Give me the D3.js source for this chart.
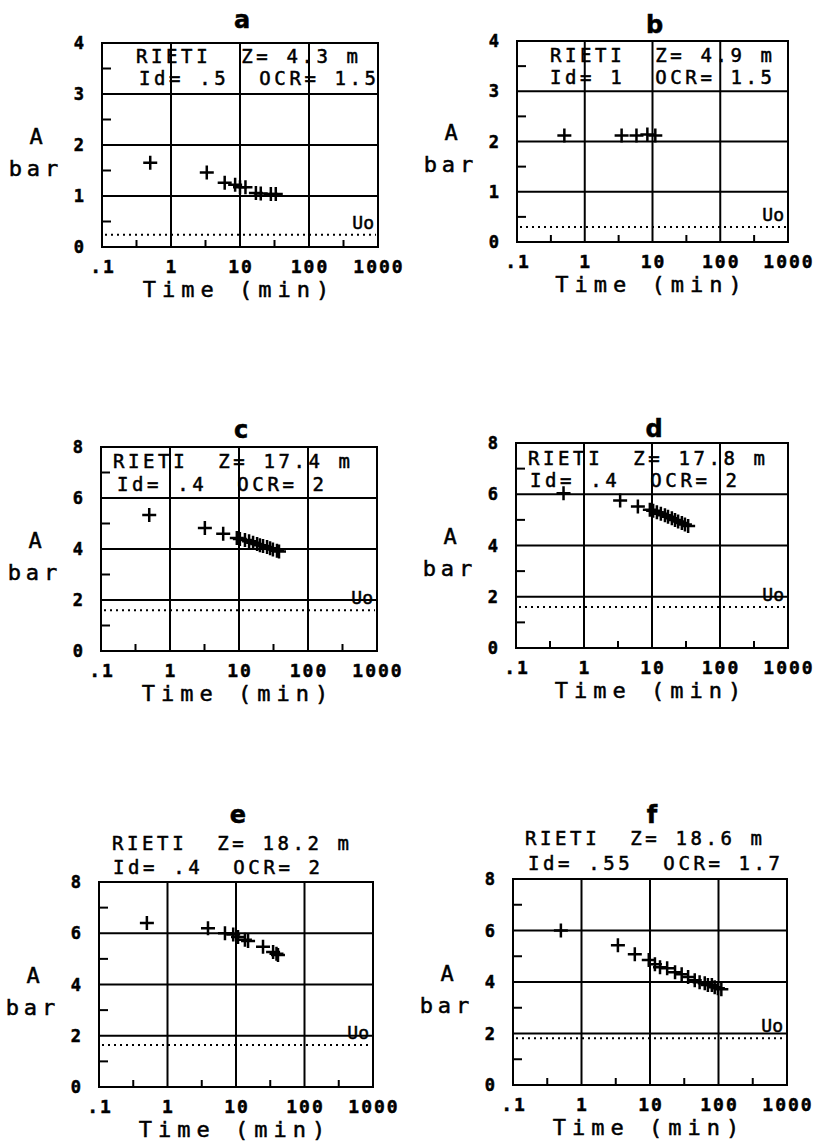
<!DOCTYPE html>
<html>
<head>
<meta charset="utf-8">
<script src="https://cdn.jsdelivr.net/npm/d3@7"></script>
<style>
  body { margin: 0; background: #fff; }
  text { font-family: "DejaVu Sans Mono", monospace; fill: #000; stroke: #000; stroke-width: 0.5; }
</style>
</head>
<body>
<svg id="chart" width="818" height="1144"></svg>
<script>
// ---- data ----
const panelIds = ["a", "b", "c", "d", "e", "f"];
const headLine1 = ["RIETI  Z= 4.3 m", "RIETI  Z= 4.9 m", "RIETI  Z= 17.4 m", "RIETI  Z= 17.8 m", "RIETI  Z= 18.2 m", "RIETI  Z= 18.6 m"];
const headLine2 = ["Id= .5  OCR= 1.5", "Id= 1  OCR= 1.5", "Id= .4  OCR= 2", "Id= .4  OCR= 2", "Id= .4  OCR= 2", "Id= .55  OCR= 1.7"];

const timeA = [0.5, 3.3, 6, 8.5, 10, 12, 17, 20, 28, 33];
const presA = [1.65, 1.46, 1.26, 1.22, 1.17, 1.17, 1.06, 1.05, 1.04, 1.04];
const timeB = [0.5, 3.5, 5.8, 8.4, 11];
const presB = [2.12, 2.12, 2.12, 2.14, 2.12];
const timeC = [0.5, 3.2, 5.9, 9.3, 10.3, 12.2, 14, 16, 18.3, 20.1, 22.3, 25.5, 28.2, 31, 35.5, 38];
const presC = [5.33, 4.82, 4.6, 4.43, 4.39, 4.35, 4.3, 4.25, 4.2, 4.15, 4.12, 4.08, 4.03, 3.98, 3.93, 3.9];
const timeD = [0.5, 3.4, 6.2, 9.3, 10.4, 11.8, 13.5, 15.5, 17.2, 19.6, 21.8, 24.2, 27.5, 30.5, 34];
const presD = [6.04, 5.76, 5.52, 5.4, 5.36, 5.3, 5.24, 5.18, 5.12, 5.06, 5.0, 4.94, 4.88, 4.82, 4.76];
const timeE = [0.5, 3.9, 6.9, 9.1, 10.7, 13.5, 15, 24.8, 34.8, 39, 41];
const presE = [6.4, 6.2, 6.0, 5.95, 5.85, 5.75, 5.7, 5.47, 5.27, 5.2, 5.15];
const timeF = [0.5, 3.4, 6.0, 9.6, 11.8, 14, 17.8, 23.2, 29, 36, 45, 53, 63, 70, 80, 88, 98, 110];
const presF = [6.0, 5.43, 5.08, 4.85, 4.69, 4.57, 4.53, 4.38, 4.3, 4.19, 4.07, 3.99, 3.95, 3.88, 3.88, 3.8, 3.76, 3.72];

const uoLevels = [0.24, 0.3, 1.6, 1.6, 1.64, 1.82];
const yMaxes = [4, 4, 8, 8, 8, 8];
const yGridStep = [1, 1, 2, 2, 2, 2];

const xTickVals = [0.1, 1, 10, 100, 1000];
const xTickLabels = [".1", "1", "10", "100", "1000"];

const times = [timeA, timeB, timeC, timeD, timeE, timeF];
const pressures = [presA, presB, presC, presD, presE, presF];

// ---- layout: plot boxes [left, right, top, bottom] (the scan is a bit uneven) ----
const boxes = [
  [102, 378, 43, 247], [517, 788, 41, 242],
  [101, 377, 447, 651], [516, 788, 443, 648],
  [99, 373, 882, 1087], [513, 787, 879, 1085]
];
// header text offsets from box left/top: [dx1, dy1, dx2, dy2]
const headOffsets = [
  [34, 20, 37, 42], [33, 21, 33, 43],
  [12, 21, 16, 44], [12, 22, 14, 44],
  [13, -32, 14, -8], [12, -34, 15, -9]
];
const titleOffsets = [-15, -8, -9, -6, -59, -56];

const svg = d3.select("#chart");
svg.append("rect").attr("width", 818).attr("height", 1144).attr("fill", "#fff");

// plus marker
const plus = {
  draw(ctx, size) {
    const r = Math.sqrt(size) / 2;
    ctx.moveTo(-r, 0); ctx.lineTo(r, 0);
    ctx.moveTo(0, -r); ctx.lineTo(0, r);
  }
};
const plusPath = d3.symbol().type(plus).size(196)();

panelIds.forEach((id, i) => {
  const [x0, x1, y0, y1] = boxes[i];
  const x = d3.scaleLog().domain([0.1, 1000]).range([x0, x1]);
  const y = d3.scaleLinear().domain([0, yMaxes[i]]).range([y1, y0]);
  const g = svg.append("g");

  const yTicks = d3.range(0, yMaxes[i] + 0.001, yGridStep[i]);
  const yMinor = yTicks.slice(0, -1).map(v => v + yGridStep[i] / 2);
  const xMinor = xTickVals.slice(0, -1).map(v => v * Math.sqrt(10));

  // grid lines
  g.selectAll(".hgrid").data(yTicks.slice(1, -1)).enter().append("line")
    .attr("x1", x0).attr("x2", x1).attr("y1", d => y(d)).attr("y2", d => y(d))
    .attr("stroke", "#000").attr("stroke-width", 2);
  g.selectAll(".vgrid").data(xTickVals.slice(1, -1)).enter().append("line")
    .attr("x1", d => x(d)).attr("x2", d => x(d)).attr("y1", y0).attr("y2", y1)
    .attr("stroke", "#000").attr("stroke-width", 2);

  // minor ticks
  g.selectAll(".ym").data(yMinor).enter().append("line")
    .attr("x1", x0).attr("x2", x0 + 9).attr("y1", d => y(d)).attr("y2", d => y(d))
    .attr("stroke", "#000").attr("stroke-width", 2);
  g.selectAll(".xm").data(xMinor).enter().append("line")
    .attr("x1", d => x(d)).attr("x2", d => x(d)).attr("y1", y1).attr("y2", y1 - 7)
    .attr("stroke", "#000").attr("stroke-width", 2);

  // box
  g.append("rect").attr("x", x0).attr("y", y0).attr("width", x1 - x0).attr("height", y1 - y0)
    .attr("fill", "none").attr("stroke", "#000").attr("stroke-width", 2);

  // Uo dotted line
  g.append("line").attr("x1", x0 + 3).attr("x2", x1 - 2)
    .attr("y1", y(uoLevels[i])).attr("y2", y(uoLevels[i]))
    .attr("stroke", "#000").attr("stroke-width", 2).attr("stroke-dasharray", "2,4");
  g.append("text").attr("x", x1 - 4).attr("y", y(uoLevels[i]) - 6)
    .attr("text-anchor", "end").attr("font-size", 18).text("Uo");

  // points
  g.selectAll(".pt").data(times[i].map((t, k) => [t, pressures[i][k]])).enter().append("path")
    .attr("d", plusPath)
    .attr("transform", d => `translate(${x(d[0])},${y(d[1])})`)
    .attr("fill", "none").attr("stroke", "#000").attr("stroke-width", 2.5);

  // y tick labels
  g.selectAll(".yl").data(yTicks).enter().append("text")
    .attr("x", x0 - 18).attr("y", d => y(d)).attr("dy", "0.36em")
    .attr("text-anchor", "end").attr("font-size", 17).attr("font-weight", "bold")
    .text(d => d);

  // x tick labels
  g.selectAll(".xl").data(xTickVals).enter().append("text")
    .attr("x", d => x(d) + 1).attr("y", y1 + 26)
    .attr("text-anchor", "middle").attr("font-size", 18).attr("font-weight", "bold")
    .attr("letter-spacing", 2)
    .text((d, k) => xTickLabels[k]);

  // axis titles
  const mid = (y0 + y1) / 2;
  g.append("text").attr("x", x0 - 66).attr("y", mid - 9).attr("dy", "0.36em")
    .attr("text-anchor", "middle").attr("font-size", 22).text("A");
  g.append("text").attr("x", x0 - 66).attr("y", mid + 23).attr("dy", "0.36em")
    .attr("text-anchor", "middle").attr("font-size", 22).attr("letter-spacing", 5).text("bar");
  g.append("text").attr("x", (x0 + x1) / 2 - 1).attr("y", y1 + 50)
    .attr("text-anchor", "middle").attr("font-size", 22).attr("letter-spacing", 6)
    .attr("xml:space", "preserve").style("white-space", "pre").text("Time (min)");

  // panel letter
  g.append("text").attr("x", (x0 + x1) / 2 + 2).attr("y", y0 + titleOffsets[i])
    .attr("text-anchor", "middle").attr("font-size", 24).attr("font-weight", "bold")
    .style("font-family", "'DejaVu Sans', sans-serif").text(id);

  // header lines
  const [dx1, dy1, dx2, dy2] = headOffsets[i];
  g.append("text").attr("x", x0 + dx1).attr("y", y0 + dy1)
    .attr("font-size", 19).attr("letter-spacing", 3.6)
    .attr("xml:space", "preserve").style("white-space", "pre").text(headLine1[i]);
  g.append("text").attr("x", x0 + dx2).attr("y", y0 + dy2)
    .attr("font-size", 19).attr("letter-spacing", 3.6)
    .attr("xml:space", "preserve").style("white-space", "pre").text(headLine2[i]);
});
</script>
</body>
</html>
